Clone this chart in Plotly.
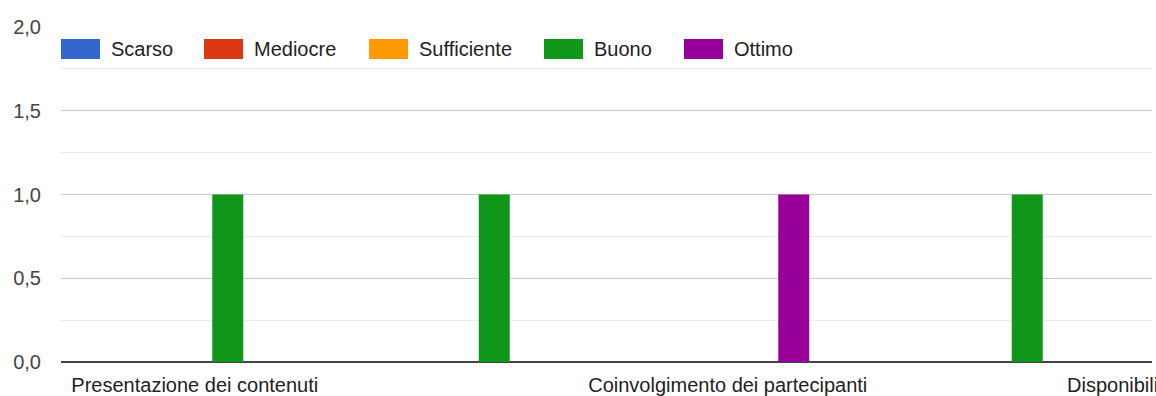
import plotly.graph_objects as go

# Survey ratings per topic (number of answers)
categories = [
    "Presentazione dei contenuti",
    "Chiarezza dell'esposizione",
    "Coinvolgimento dei partecipanti",
    "Materiale didattico",
    "Disponibilità del relatore verso i partecipanti",
]
series_names = ["Scarso", "Mediocre", "Sufficiente", "Buono", "Ottimo"]
scarso = [0, 0, 0, 0]
mediocre = [0, 0, 0, 0]
sufficiente = [0, 0, 0, 0]
buono = [1, 1, 0, 1]
ottimo = [0, 0, 1, 0]
y_ticks = [0.0, 0.5, 1.0, 1.5, 2.0]

series_values = [scarso, mediocre, sufficiente, buono, ottimo]
colors = ["#3366cc", "#dc3912", "#ff9900", "#109618", "#990099"]

FONT = "Arial, 'Liberation Sans', sans-serif"
X_RANGE = [-0.502, 3.592]

fig = go.Figure()
shown = categories[: len(buono)]
for name, vals, col in zip(series_names, series_values, colors):
    fig.add_trace(go.Bar(
        x=shown, y=vals, name=name,
        marker=dict(color=col, line=dict(width=0)),
        showlegend=False,
    ))

# Legend drawn as wide swatches along the top of the plot area
legend_offsets = [0, 143, 308, 483, 623]
shapes = []
annotations = []
for name, col, off in zip(series_names, colors, legend_offsets):
    shapes.append(dict(
        type="rect", xref="paper", yref="paper",
        xsizemode="pixel", ysizemode="pixel",
        xanchor=0, yanchor=1,
        x0=off, x1=off + 39, y0=-32, y1=-12,
        fillcolor=col, line=dict(width=0),
    ))
    annotations.append(dict(
        xref="paper", yref="paper", x=0, y=1,
        xshift=off + 48, yshift=-22,
        xanchor="left", yanchor="middle",
        text=name, showarrow=False,
        font=dict(family=FONT, size=20, color="#222222"),
    ))

# Label of the next category, centred on its slot beyond the visible range
next_idx = len(buono)
annotations.append(dict(
    xref="paper", yref="paper",
    x=(next_idx - X_RANGE[0]) / (X_RANGE[1] - X_RANGE[0]), y=0,
    xanchor="center", yanchor="top", yshift=-10,
    text=categories[next_idx], showarrow=False,
    font=dict(family=FONT, size=20, color="#222222"),
))

fig.update_layout(
    width=1156, height=396,
    margin=dict(l=61, r=4, t=27, b=34),
    paper_bgcolor="white", plot_bgcolor="white",
    separators=",.",
    barmode="group", bargap=0.381, bargroupgap=0.06,
    font=dict(family=FONT, size=20, color="#222222"),
    shapes=shapes, annotations=annotations,
    xaxis=dict(
        type="category", categoryorder="array", categoryarray=categories,
        range=X_RANGE, tickmode="array",
        tickvals=categories[::2], ticktext=categories[::2],
        showgrid=False, ticks="", showline=False, zeroline=False,
        ticklabelstandoff=9,
        tickfont=dict(family=FONT, size=20, color="#222222"),
        automargin=False, fixedrange=True,
    ),
    yaxis=dict(
        range=[0, 2], tickmode="array", tickvals=y_ticks, tickformat=".1f",
        showgrid=True, gridcolor="#cccccc", gridwidth=1,
        minor=dict(dtick=0.25, showgrid=True, gridcolor="#ebebeb", gridwidth=1),
        zeroline=True, zerolinecolor="#444444", zerolinewidth=2,
        ticks="", ticklabelstandoff=19,
        tickfont=dict(family=FONT, size=20, color="#444444"),
        automargin=False, fixedrange=True,
    ),
)

fig.write_html("out.html")
